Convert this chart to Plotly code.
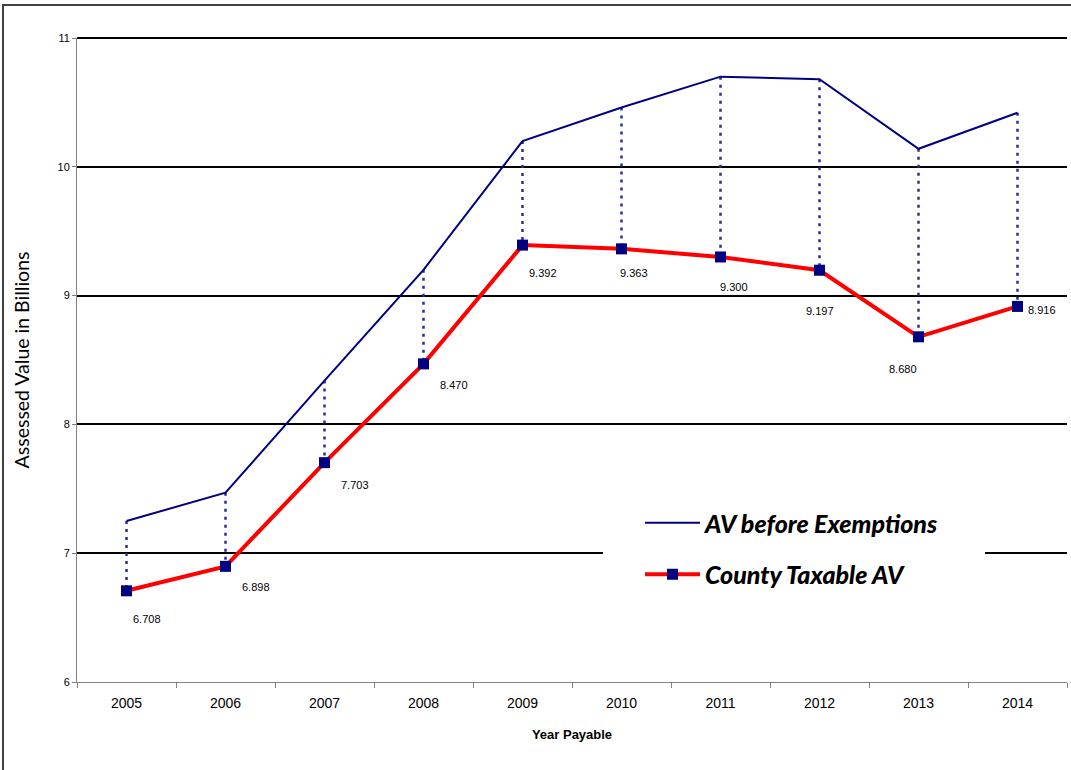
import plotly.graph_objects as go

years = ["2005", "2006", "2007", "2008", "2009", "2010", "2011", "2012", "2013", "2014"]
av_before = [7.25, 7.47, 8.34, 9.20, 10.20, 10.46, 10.70, 10.68, 10.14, 10.42]
county_taxable = [6.708, 6.898, 7.703, 8.470, 9.392, 9.363, 9.300, 9.197, 8.680, 8.916]
y_ticks = [6, 7, 8, 9, 10, 11]

# label offsets in pixels (style only)
label_dx = [20, 30, 30, 30, 20, 12, 13, 0, -16, 24]
label_dy = [-28, -21, -22, -21, -28, -24, -30, -41, -32, -4]

W, H = 1071, 770
L, R, T, B = 77, 4, 38, 88
pw, ph = W - L - R, H - T - B

def px_x(p):
    return (p - L) / pw

def px_y(p):
    return (H - B - p) / ph

fig = go.Figure()

# drop lines
dx, dy = [], []
for yr, a, c in zip(years, av_before, county_taxable):
    dx += [yr, yr, None]
    dy += [a, c, None]
fig.add_trace(go.Scatter(x=dx, y=dy, mode="lines", showlegend=False, hoverinfo="skip",
                         line=dict(color="#2b2b9e", width=2.5, dash="3px,5px")))

fig.add_trace(go.Scatter(x=years, y=av_before, mode="lines", name="AV before Exemptions",
                         legendgroup="a", line=dict(color="#000080", width=2)))
fig.add_trace(go.Scatter(x=years, y=county_taxable, mode="lines+markers", name="County Taxable AV",
                         legendgroup="b", line=dict(color="#ff0000", width=4),
                         marker=dict(symbol="square", size=11, color="#000080")))

for i, (c, ox, oy) in enumerate(zip(county_taxable, label_dx, label_dy)):
    fig.add_annotation(x=i, y=c, xref="x", yref="y", text=f"{c:.3f}", showarrow=False,
                       xshift=ox, yshift=oy,
                       font=dict(family="Liberation Sans, Arial", size=11, color="#000000"))

shapes = [
    # top gridline at the range edge
    dict(type="line", xref="paper", yref="paper", x0=0, x1=1, y0=1, y1=1,
         line=dict(color="#000000", width=2), layer="above"),
    # legend white background covering gridline
    dict(type="rect", xref="paper", yref="paper", x0=px_x(603), x1=px_x(985), y0=px_y(600), y1=px_y(495),
         fillcolor="white", line=dict(width=0), layer="above"),
    # outer border (top and left edges visible)
    dict(type="line", xref="paper", yref="paper", x0=px_x(2), x1=px_x(1075), y0=px_y(5), y1=px_y(5),
         line=dict(color="#404040", width=2), layer="above"),
    dict(type="line", xref="paper", yref="paper", x0=px_x(3), x1=px_x(3), y0=px_y(5), y1=px_y(775),
         line=dict(color="#404040", width=2), layer="above"),
]

fig.update_layout(
    width=W, height=H,
    margin=dict(l=L, r=R, t=T, b=B),
    paper_bgcolor="white", plot_bgcolor="white",
    font=dict(family="Liberation Sans, Arial", color="#000000"),
    shapes=shapes,
    showlegend=True,
    legend=dict(x=px_x(640), y=px_y(500), xanchor="left", yanchor="top",
                bgcolor="rgba(0,0,0,0)", itemwidth=55, tracegroupgap=16,
                font=dict(family="Lato", size=25, style="italic", weight=900, color="#000000")),
    xaxis=dict(type="category", categoryorder="array", categoryarray=years,
               range=[-0.5, len(years) - 0.5],
               showgrid=False, showline=True, linecolor="#808080", linewidth=1,
               ticks="outside", tickson="boundaries", ticklen=5, tickcolor="#808080",
               tickfont=dict(size=14), ticklabelstandoff=8, fixedrange=True,
               title=dict(text="Year Payable", font=dict(size=13, weight="bold"), standoff=20)),
    yaxis=dict(range=[6, 11], tickvals=y_ticks, showgrid=True, gridcolor="#000000", gridwidth=2,
               showline=True, linecolor="#808080", linewidth=1, zeroline=False,
               ticks="outside", ticklen=4, tickcolor="#808080", tickfont=dict(size=11),
               title=dict(text="Assessed Value in Billions", font=dict(family="Lato", size=19.5),
                          standoff=22)),
)

fig.write_html("out.html")
